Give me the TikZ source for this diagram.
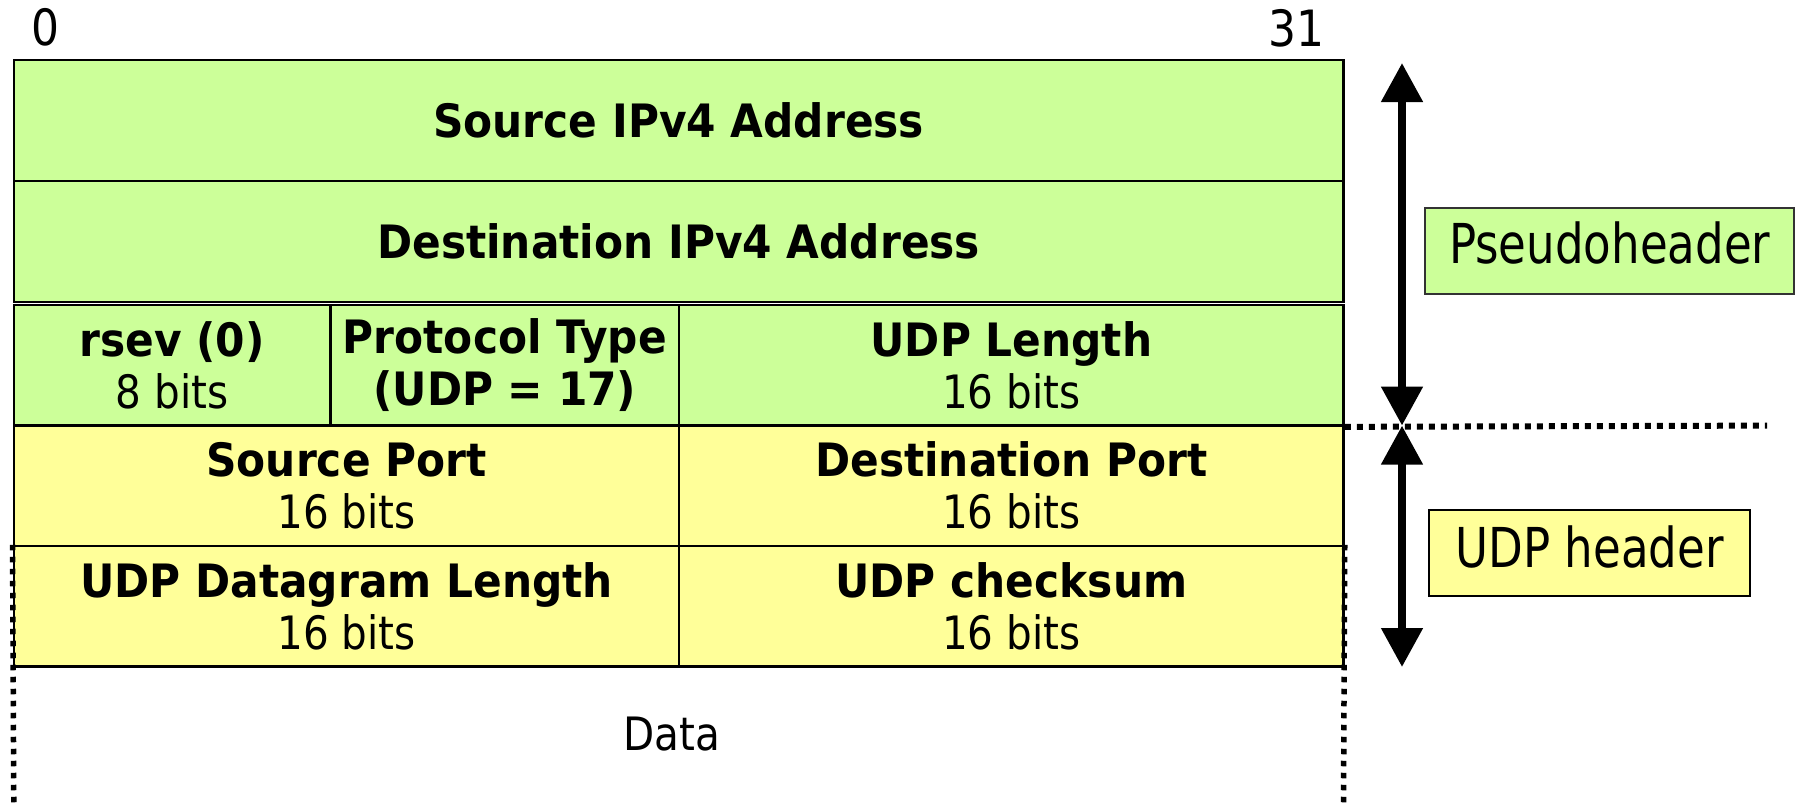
\documentclass[tikz,border=0pt]{standalone}
\usepackage{fontspec}
\setmainfont{DejaVu Sans}
\newfontfamily\regf{DejaVu Sans}[FakeStretch=0.88]
\newfontfamily\boldf{DejaVu Sans}[FakeStretch=0.92]
\newfontfamily\labf{DejaVu Sans}[FakeStretch=0.82]
\usetikzlibrary{arrows.meta}
\definecolor{pgreen}{HTML}{CCFF99}
\definecolor{pyellow}{HTML}{FFFF99}
\definecolor{lborder}{HTML}{333333}
\tikzset{
  cell/.style={draw=black, line width=2.5pt, inner sep=0pt, align=center,
               font=\fontsize{46}{52}\selectfont},
  gcell/.style={fill=pgreen},
  ycell/.style={fill=pyellow},
  oneline/.style={text height=33.6pt, text depth=0pt, yshift=3pt},
  labbox/.style={draw=lborder, line width=2pt, inner sep=0pt,
                 font=\labf\fontsize{55}{60}\selectfont, text height=41.8pt},
  bigarrow/.style={line width=8pt,
     {Triangle[width=40pt,length=39pt]}-{Triangle[width=40pt,length=39pt]}},
  hdot/.style={line width=6pt, dash pattern=on 6pt off 6pt},
  vdot/.style={line width=5.5pt, dash pattern=on 5.5pt off 6.5pt},
  plain/.style={inner sep=0pt, font=\regf\fontsize{46}{52}\selectfont},
  numlab/.style={inner sep=0pt, font=\regf\fontsize{50}{60}\selectfont},
}
\begin{document}
\begin{tikzpicture}[x=1pt,y=-1pt]
\useasboundingbox (0,0) rectangle (1799,803);

% bit labels
\node[numlab, anchor=base west] (n0) at (31,45) {0};
\node[numlab, anchor=base east] (n31) at (1325,46) {31};

% pseudoheader rows
\node[cell, gcell, oneline, minimum width=1329.7pt, minimum height=121pt] (src) at (678.65,123.5)
  {\boldf\bfseries Source IPv4 Address};
\node[cell, gcell, oneline, minimum width=1329.7pt, minimum height=121pt] (dst) at (678.65,244.5)
  {\boldf\bfseries Destination IPv4 Address};
\node[cell, gcell, minimum width=316.6pt, minimum height=120.6pt] (rsev) at (172.1,365.3)
  {{\boldf\bfseries rsev (0)}\\{\regf 8 bits}};
\node[cell, gcell, minimum width=348.8pt, minimum height=120.6pt] (proto) at (504.8,365.3)
  {{\boldf\bfseries Protocol Type}\\{\boldf\bfseries (UDP = 17)}};
\node[cell, gcell, minimum width=664.3pt, minimum height=120.6pt] (udplen) at (1011.35,365.3)
  {{\boldf\bfseries UDP Length}\\{\regf 16 bits}};

% UDP header rows
\node[cell, ycell, minimum width=665.4pt, minimum height=120.4pt] (sport) at (346.5,485.8)
  {{\boldf\bfseries Source Port}\\{\regf 16 bits}};
\node[cell, ycell, minimum width=664.3pt, minimum height=120.4pt] (dport) at (1011.35,485.8)
  {{\boldf\bfseries Destination Port}\\{\regf 16 bits}};
\node[cell, ycell, minimum width=665.4pt, minimum height=120.6pt] (dlen) at (346.5,606.3)
  {{\boldf\bfseries UDP Datagram Length}\\{\regf 16 bits}};
\node[cell, ycell, minimum width=664.3pt, minimum height=120.6pt] (csum) at (1011.35,606.3)
  {{\boldf\bfseries UDP checksum}\\{\regf 16 bits}};

% data area
\node[plain, anchor=base] (data) at (672,750.8) {Data};
\coordinate (bl) at (13.8,803);
\coordinate (br) at (1343.5,803);
\draw[vdot] (dlen.north west) -- (bl);
\draw[vdot] (csum.north east) -- (br);

% separator between pseudoheader and UDP header
\coordinate (dEnd) at (1767,425.6);
\draw[hdot] (udplen.south east) -- (dEnd);

% extent arrows
\coordinate (aTop) at (1402,63);
\coordinate (aMid) at (1402,425.6);
\coordinate (aBot) at (1402,667);
\draw[bigarrow] (aTop) -- (aMid);
\draw[bigarrow] (aMid) -- (aBot);

% side labels
\node[labbox, fill=pgreen, text depth=16.8pt, minimum width=369pt, minimum height=86pt] (pseudo) at (1609.7,251.3) {Pseudoheader};
\node[labbox, fill=pyellow, draw=black, text depth=12.8pt, minimum width=321pt, minimum height=86pt] (udph) at (1589.5,553) {UDP header};
\end{tikzpicture}
\end{document}
